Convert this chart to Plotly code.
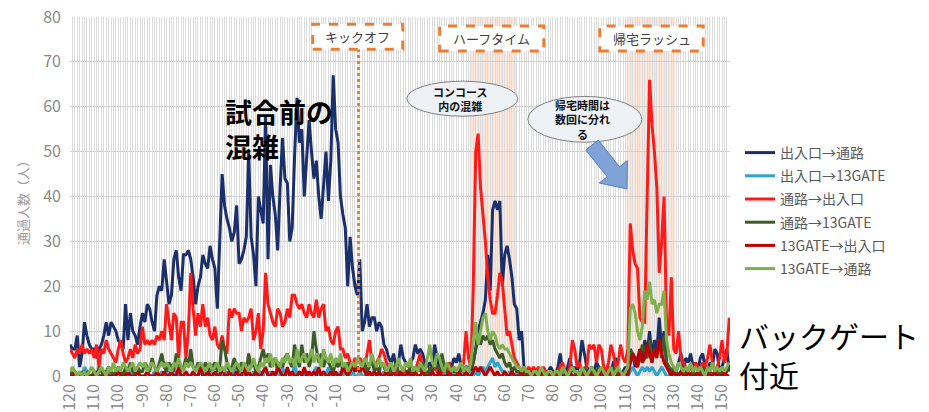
import plotly.graph_objects as go

# ---------------------------------------------------------------------------
# Data: passengers per minute, minutes relative to kickoff (-120 .. 153)
# ---------------------------------------------------------------------------
MINUTES = list(range(-120, 154))
TICK_VALUES = list(range(-120, 151, 10))

GATE_TO_PATH = [  # 出入口→通路
    7, 6, 6, 9, 2, 5, 12, 9, 7, 6,
    6, 4, 6, 7, 9, 12, 9, 12, 11, 10,
    8, 7, 6, 16, 8, 14, 10, 9, 7, 11,
    14, 12, 16, 15, 12, 10, 18, 20, 19, 26,
    21, 16, 18, 26, 28, 22, 19, 27, 27, 28,
    26, 22, 16, 20, 22, 27, 25, 24, 29, 26,
    24, 15, 30, 45, 38, 35, 33, 30, 32, 38,
    25, 26, 28, 31, 50, 31, 27, 20, 40, 37,
    34, 58, 26, 47, 40, 36, 28, 42, 53, 44,
    43, 30, 33, 49, 62, 52, 55, 40, 48, 57,
    50, 44, 48, 40, 35, 42, 50, 39, 48, 67,
    55, 52, 40, 36, 33, 20, 31, 24, 20, 18,
    26, 10, 12, 16, 11, 13, 13, 10, 12, 11,
    7, 6, 4, 3, 5, 2, 3, 7, 4, 3,
    2, 3, 4, 7, 5, 6, 5, 3, 2, 3,
    2, 7, 4, 2, 1, 2, 1, 3, 2, 4,
    3, 5, 2, 1, 2, 2, 1, 3, 6, 10,
    12, 14, 17, 27, 19, 37, 39, 37, 39, 20,
    27, 29, 26, 22, 16, 15, 8, 10, 2, 1,
    1, 0, 1, 0, 1, 0, 1, 0, 1, 2,
    1, 0, 2, 5, 1, 0, 2, 4, 1, 2,
    1, 3, 8, 5, 2, 1, 2, 1, 3, 2,
    1, 0, 1, 2, 1, 3, 4, 1, 0, 1,
    2, 1, 3, 5, 2, 4, 6, 3, 8, 5,
    10, 4, 8, 5, 13, 6, 10, 3, 2, 1,
    2, 1, 3, 5, 2, 4, 3, 5, 2, 3,
    1, 4, 5, 2, 1, 3, 2, 6, 5, 1,
    2, 4, 6, 1,
]

GATE_TO_13 = [  # 出入口→13GATE
    0, 1, 0, 0, 1, 0, 2, 1, 0, 0,
    0, 1, 0, 0, 1, 0, 0, 1, 0, 0,
    1, 0, 0, 1, 0, 0, 2, 0, 1, 0,
    0, 0, 1, 0, 0, 1, 0, 0, 1, 0,
    0, 1, 0, 0, 1, 0, 0, 0, 1, 0,
    0, 1, 0, 0, 1, 0, 1, 0, 0, 1,
    0, 0, 1, 0, 0, 1, 0, 0, 2, 0,
    1, 0, 0, 1, 0, 0, 1, 0, 0, 1,
    0, 2, 0, 1, 0, 0, 1, 0, 2, 0,
    1, 0, 0, 3, 0, 1, 0, 0, 1, 0,
    0, 1, 2, 0, 0, 1, 0, 2, 0, 1,
    0, 0, 1, 0, 1, 0, 0, 1, 0, 0,
    1, 0, 0, 1, 0, 0, 1, 0, 0, 0,
    1, 0, 0, 0, 1, 0, 0, 0, 1, 0,
    0, 0, 1, 0, 0, 0, 1, 0, 0, 0,
    1, 0, 0, 0, 0, 1, 0, 0, 0, 1,
    0, 0, 0, 1, 0, 0, 1, 0, 1, 0,
    1, 2, 1, 2, 3, 4, 2, 3, 2, 1,
    1, 0, 1, 0, 0, 1, 0, 0, 0, 0,
    0, 0, 0, 1, 0, 0, 0, 0, 0, 1,
    0, 0, 0, 0, 1, 0, 0, 0, 0, 0,
    1, 0, 0, 0, 0, 1, 0, 0, 0, 0,
    0, 1, 0, 0, 0, 0, 0, 1, 0, 0,
    0, 0, 1, 2, 1, 0, 1, 2, 1, 2,
    1, 2, 1, 0, 1, 2, 1, 0, 0, 1,
    0, 0, 0, 1, 0, 0, 0, 0, 1, 0,
    0, 0, 0, 1, 0, 0, 0, 0, 0, 1,
    0, 0, 0, 0,
]

PATH_TO_GATE = [  # 通路→出入口
    6, 5, 4, 6, 5, 7, 5, 6, 5, 6,
    4, 7, 2, 6, 5, 8, 6, 5, 4, 3,
    6, 8, 5, 3, 4, 6, 4, 7, 5, 6,
    11, 7, 8, 7, 8, 7, 9, 8, 10, 8,
    16, 12, 8, 14, 13, 4, 12, 12, 4, 10,
    23, 15, 9, 14, 11, 16, 11, 13, 9, 8,
    11, 7, 6, 9, 6, 5, 15, 13, 15, 14,
    14, 10, 13, 12, 13, 15, 8, 10, 14, 6,
    10, 23, 16, 14, 12, 11, 15, 14, 11, 12,
    15, 13, 18, 18, 16, 15, 16, 14, 13, 16,
    14, 13, 17, 13, 15, 16, 10, 11, 8, 7,
    10, 11, 6, 6, 4, 5, 3, 2, 4, 3,
    4, 3, 2, 5, 8, 3, 2, 3, 4, 6,
    5, 3, 2, 1, 2, 1, 0, 1, 0, 1,
    1, 0, 2, 1, 3, 5, 2, 0, 1, 0,
    1, 2, 1, 0, 1, 2, 1, 3, 1, 2,
    1, 2, 1, 3, 10, 4, 2, 20, 50, 54,
    42, 36, 30, 22, 17, 14, 14, 18, 23, 21,
    14, 9, 10, 7, 4, 3, 2, 1, 2, 1,
    2, 1, 2, 1, 2, 1, 2, 1, 1, 0,
    1, 0, 1, 2, 3, 1, 0, 2, 8, 6,
    2, 3, 1, 0, 2, 7, 6, 7, 3, 7,
    6, 2, 1, 3, 7, 5, 2, 3, 7, 4,
    3, 6, 34, 28, 25, 24, 13, 12, 12, 40,
    66, 56, 50, 42, 23, 30, 40, 12, 9, 22,
    6, 5, 10, 4, 3, 2, 1, 2, 1, 3,
    2, 1, 3, 2, 4, 7, 3, 1, 2, 4,
    8, 3, 5, 13,
]

PATH_TO_13 = [  # 通路→13GATE
    1, 0, 1, 0, 0, 1, 0, 1, 0, 0,
    1, 0, 2, 1, 0, 1, 2, 1, 0, 1,
    2, 1, 0, 2, 1, 3, 1, 0, 2, 1,
    1, 3, 2, 1, 4, 2, 1, 3, 5, 2,
    1, 3, 2, 1, 5, 3, 1, 2, 4, 2,
    6, 2, 1, 3, 2, 1, 3, 2, 1, 2,
    3, 1, 2, 8, 6, 3, 1, 2, 4, 2,
    1, 3, 2, 1, 5, 2, 3, 1, 2, 4,
    6, 3, 5, 2, 3, 4, 1, 3, 2, 4,
    5, 3, 2, 7, 4, 2, 7, 3, 5, 2,
    4, 10, 6, 3, 5, 2, 4, 3, 2, 1,
    3, 2, 4, 1, 2, 3, 1, 2, 1, 2,
    1, 2, 3, 1, 2, 4, 1, 2, 1, 3,
    2, 1, 0, 2, 1, 3, 1, 0, 2, 1,
    1, 2, 0, 1, 2, 1, 3, 1, 0, 2,
    1, 3, 2, 1, 5, 2, 1, 0, 2, 1,
    1, 0, 2, 1, 2, 1, 2, 3, 6, 8,
    7, 9, 8, 9, 7, 8, 6, 5, 4, 5,
    3, 2, 3, 1, 2, 1, 1, 0, 1, 0,
    1, 0, 0, 1, 0, 1, 0, 0, 1, 0,
    0, 1, 0, 1, 0, 0, 1, 0, 2, 1,
    0, 1, 0, 2, 1, 0, 1, 0, 1, 2,
    0, 1, 0, 1, 0, 2, 1, 0, 1, 0,
    1, 2, 6, 5, 3, 2, 4, 7, 5, 4,
    8, 3, 6, 5, 7, 4, 9, 3, 2, 1,
    2, 1, 0, 1, 2, 0, 1, 0, 1, 0,
    1, 0, 2, 1, 0, 1, 0, 1, 2, 0,
    1, 0, 1, 2,
]

G13_TO_GATE = [  # 13GATE→出入口
    0, 0, 1, 0, 0, 0, 1, 0, 0, 0,
    0, 1, 0, 0, 0, 1, 0, 0, 0, 0,
    1, 0, 0, 0, 1, 0, 0, 0, 1, 0,
    0, 0, 1, 0, 0, 0, 1, 0, 0, 1,
    0, 0, 1, 0, 0, 2, 0, 0, 1, 0,
    0, 1, 0, 0, 2, 0, 0, 1, 0, 0,
    1, 0, 0, 2, 0, 0, 1, 0, 0, 1,
    0, 0, 2, 0, 1, 0, 0, 1, 0, 0,
    1, 2, 0, 0, 1, 0, 2, 1, 0, 0,
    2, 0, 1, 0, 0, 1, 0, 2, 0, 1,
    0, 1, 0, 2, 0, 1, 0, 0, 1, 0,
    1, 0, 0, 2, 1, 0, 1, 3, 1, 2,
    1, 2, 1, 0, 1, 0, 1, 0, 1, 0,
    0, 1, 0, 0, 1, 0, 0, 1, 0, 0,
    1, 0, 0, 1, 0, 0, 1, 0, 0, 0,
    1, 0, 0, 1, 0, 0, 0, 1, 0, 0,
    0, 1, 0, 0, 1, 0, 0, 1, 2, 1,
    2, 1, 0, 1, 2, 1, 0, 1, 0, 0,
    1, 0, 0, 1, 0, 0, 0, 1, 0, 0,
    0, 1, 0, 0, 0, 0, 1, 0, 0, 0,
    0, 0, 1, 0, 0, 0, 0, 1, 0, 0,
    0, 1, 0, 0, 0, 1, 0, 0, 0, 1,
    0, 0, 0, 1, 0, 0, 0, 0, 1, 0,
    1, 0, 3, 5, 4, 2, 6, 3, 4, 7,
    5, 3, 6, 4, 8, 5, 3, 2, 1, 0,
    1, 0, 0, 1, 0, 0, 1, 0, 0, 0,
    1, 0, 0, 0, 1, 0, 0, 1, 0, 0,
    0, 1, 0, 0,
]

G13_TO_PATH = [  # 13GATE→通路
    1, 2, 1, 0, 1, 0, 1, 0, 1, 2,
    1, 0, 1, 2, 1, 0, 2, 1, 3, 1,
    2, 1, 3, 2, 1, 2, 3, 1, 2, 3,
    2, 3, 1, 2, 3, 2, 1, 2, 3, 2,
    3, 2, 1, 3, 2, 4, 2, 1, 3, 2,
    3, 2, 1, 2, 3, 2, 1, 2, 3, 1,
    2, 3, 1, 2, 1, 3, 2, 1, 2, 3,
    2, 1, 3, 2, 1, 2, 4, 2, 1, 3,
    2, 4, 3, 5, 2, 4, 3, 2, 4, 3,
    5, 3, 4, 2, 6, 3, 4, 5, 3, 4,
    6, 3, 5, 4, 2, 6, 4, 3, 5, 2,
    4, 3, 5, 2, 3, 1, 2, 3, 2, 4,
    3, 2, 4, 3, 2, 5, 3, 2, 4, 2,
    3, 1, 2, 3, 1, 2, 4, 2, 1, 3,
    2, 4, 1, 2, 1, 3, 2, 1, 4, 7,
    3, 2, 5, 4, 2, 1, 3, 2, 1, 2,
    1, 2, 3, 1, 2, 1, 3, 8, 12, 7,
    10, 13, 14, 10, 8, 10, 9, 7, 6, 7,
    6, 6, 5, 4, 3, 2, 2, 1, 2, 1,
    1, 0, 1, 1, 0, 2, 1, 0, 1, 1,
    0, 1, 1, 0, 2, 1, 0, 1, 2, 1,
    1, 0, 2, 1, 0, 1, 2, 1, 0, 1,
    2, 1, 0, 1, 2, 0, 1, 2, 1, 0,
    1, 2, 15, 16, 14, 10, 8, 11, 19, 17,
    21, 16, 17, 14, 16, 16, 19, 8, 5, 3,
    2, 1, 3, 2, 1, 2, 1, 3, 1, 2,
    1, 2, 1, 0, 2, 1, 3, 1, 2, 1,
    2, 1, 2, 3,
]

SERIES = [
    ("出入口→通路", GATE_TO_PATH, "#1b2f6b"),
    ("出入口→13GATE", GATE_TO_13, "#2fa3cf"),
    ("通路→出入口", PATH_TO_GATE, "#ff1a1a"),
    ("通路→13GATE", PATH_TO_13, "#3d5a2a"),
    ("13GATE→出入口", G13_TO_GATE, "#c00000"),
    ("13GATE→通路", G13_TO_PATH, "#7fb04e"),
]

# ---------------------------------------------------------------------------
# Layout geometry. Positions below are given in screen pixels; the page body
# keeps its default 8px margin, so the figure itself is offset by that much.
# ---------------------------------------------------------------------------
W, H = 929, 412
OFF = 8
PLOT_LEFT, PLOT_RIGHT, PLOT_TOP, PLOT_BOTTOM = 70, 730, 17, 376
L = PLOT_LEFT - OFF
R = W - (PLOT_RIGHT - OFF)
T = PLOT_TOP - OFF
B = H - (PLOT_BOTTOM - OFF)
X_RANGE = [-120, 153.3]
Y_RANGE = [0, 80]
FONT = "Noto Sans CJK JP, Noto Sans, sans-serif"
ORANGE = "#ed7d31"


def px_to_data(px, py):
    x = X_RANGE[0] + (px - PLOT_LEFT) / (PLOT_RIGHT - PLOT_LEFT) * (X_RANGE[1] - X_RANGE[0])
    y = Y_RANGE[0] + (PLOT_BOTTOM - py) / (PLOT_BOTTOM - PLOT_TOP) * (Y_RANGE[1] - Y_RANGE[0])
    return x, y


def paper_x(px):
    return (px - PLOT_LEFT) / (PLOT_RIGHT - PLOT_LEFT)


def paper_y(py):
    return (PLOT_BOTTOM - py) / (PLOT_BOTTOM - PLOT_TOP)


fig = go.Figure()

for i, (name, values, color) in enumerate(SERIES):
    fig.add_trace(go.Scatter(
        x=MINUTES, y=values, name=name, mode="lines",
        line=dict(color=color, width=3),
        legendgroup=f"g{i}",
    ))

shapes = []
# shaded periods (half time / going home)
for x0, x1 in [(45.5, 65), (110.5, 130.5)]:
    shapes.append(dict(type="rect", xref="x", yref="y", x0=x0, x1=x1, y0=0, y1=80,
                       fillcolor="rgba(247,190,160,0.4)", line_width=0, layer="below"))

# kickoff dotted line
shapes.append(dict(type="line", xref="x", yref="y", x0=-0.5, x1=-0.5, y0=0, y1=72.8,
                   line=dict(color=ORANGE, width=3, dash="dot")))

# dashed label boxes
boxes = [
    ("キックオフ", -19.5, 17.8, 72.8, 78.4),
    ("ハーフタイム", 33.1, 76.2, 72.4, 78.0),
    ("帰宅ラッシュ", 99.4, 142.2, 72.4, 78.0),
]
annotations = []
for text, x0, x1, y0, y1 in boxes:
    shapes.append(dict(type="rect", xref="x", yref="y", x0=x0, x1=x1, y0=y0, y1=y1,
                       fillcolor="white", line=dict(color=ORANGE, width=3, dash="dash")))
    annotations.append(dict(x=(x0 + x1) / 2, y=(y0 + y1) / 2, xref="x", yref="y",
                            text=text, showarrow=False,
                            font=dict(size=13, color="#404040", family=FONT)))

# speech ellipses
ellipses = [
    ("コンコース<br>内の混雑", 19.5, 65.4, 57.9, 65.7),
    ("帰宅時間は<br>数回に分れ<br>る", 69.6, 116.8, 52.1, 62.3),
]
for text, x0, x1, y0, y1 in ellipses:
    shapes.append(dict(type="circle", xref="x", yref="y", x0=x0, x1=x1, y0=y0, y1=y1,
                       fillcolor="#eef1f6", line=dict(color="#7f7f7f", width=1)))
    annotations.append(dict(x=(x0 + x1) / 2 - 0.8, y=(y0 + y1) / 2, xref="x", yref="y",
                            text=f"<b>{text}</b>", showarrow=False,
                            font=dict(size=11, color="#111111", family=FONT)))

# block arrow pointing at the going-home peaks
tail, tip = (592, 145), (627, 189)
dx, dy = tip[0] - tail[0], tip[1] - tail[1]
ln = (dx * dx + dy * dy) ** 0.5
ux, uy = dx / ln, dy / ln
nx, ny = -uy, ux
neck = (tip[0] - ux * 22, tip[1] - uy * 22)
pts = [
    (tail[0] + nx * 8, tail[1] + ny * 8),
    (neck[0] + nx * 8, neck[1] + ny * 8),
    (neck[0] + nx * 18, neck[1] + ny * 18),
    tip,
    (neck[0] - nx * 18, neck[1] - ny * 18),
    (neck[0] - nx * 8, neck[1] - ny * 8),
    (tail[0] - nx * 8, tail[1] - ny * 8),
]
path = "M " + " L ".join(f"{x:.3f},{y:.3f}" for x, y in (px_to_data(*p) for p in pts)) + " Z"
shapes.append(dict(type="path", xref="x", yref="y", path=path,
                   fillcolor="#7fa3d6", line=dict(color="#5b7fb5", width=1)))

annotations += [
    dict(x=-56.5, y=55, xref="x", yref="y", text="<b>試合前の<br>混雑</b>",
         showarrow=False, xanchor="left", yanchor="middle", align="left",
         font=dict(size=27, color="black", family=FONT)),
    dict(x=paper_x(737), y=paper_y(354), xref="paper", yref="paper",
         text="バックゲート<br>付近", showarrow=False, xanchor="left", yanchor="middle",
         align="left", font=dict(size=30, color="black", family=FONT)),
    dict(x=paper_x(22), y=paper_y(200), xref="paper", yref="paper",
         text="通過人数（人）", showarrow=False, textangle=-90,
         xanchor="center", yanchor="middle",
         font=dict(size=13, color="#9a9a9a", family=FONT)),
]

fig.update_layout(
    width=W, height=H,
    margin=dict(l=L, r=R, t=T, b=B, autoexpand=False),
    paper_bgcolor="white",
    plot_bgcolor="white",
    font=dict(family=FONT, color="#808080"),
    shapes=shapes,
    annotations=annotations,
    showlegend=True,
    legend=dict(
        x=paper_x(740), y=paper_y(137),
        xanchor="left", yanchor="top",
        font=dict(size=14, color="#595959", family=FONT),
        traceorder="grouped", tracegroupgap=2,
        bgcolor="rgba(0,0,0,0)",
    ),
)

fig.update_xaxes(
    range=X_RANGE,
    tickmode="array", tickvals=TICK_VALUES, ticktext=[str(v) for v in TICK_VALUES],
    tickangle=-90, tickfont=dict(size=16, color="#8a8a8a"),
    ticklabelstandoff=4, ticklabeloverflow="allow",
    showgrid=True, gridcolor="#dcdcdc", gridwidth=1,
    minor=dict(dtick=1, tick0=0, showgrid=True, gridcolor="#dcdcdc", gridwidth=1),
    zeroline=False, showline=False, ticks="", automargin=False,
)
fig.update_yaxes(
    range=Y_RANGE, dtick=10,
    tickfont=dict(size=16, color="#8a8a8a"),
    ticklabelstandoff=8, ticklabeloverflow="allow",
    showgrid=True, gridcolor="#cfcfcf", gridwidth=1,
    zeroline=False, showline=False, ticks="", automargin=False,
)

fig.write_html("out.html")
